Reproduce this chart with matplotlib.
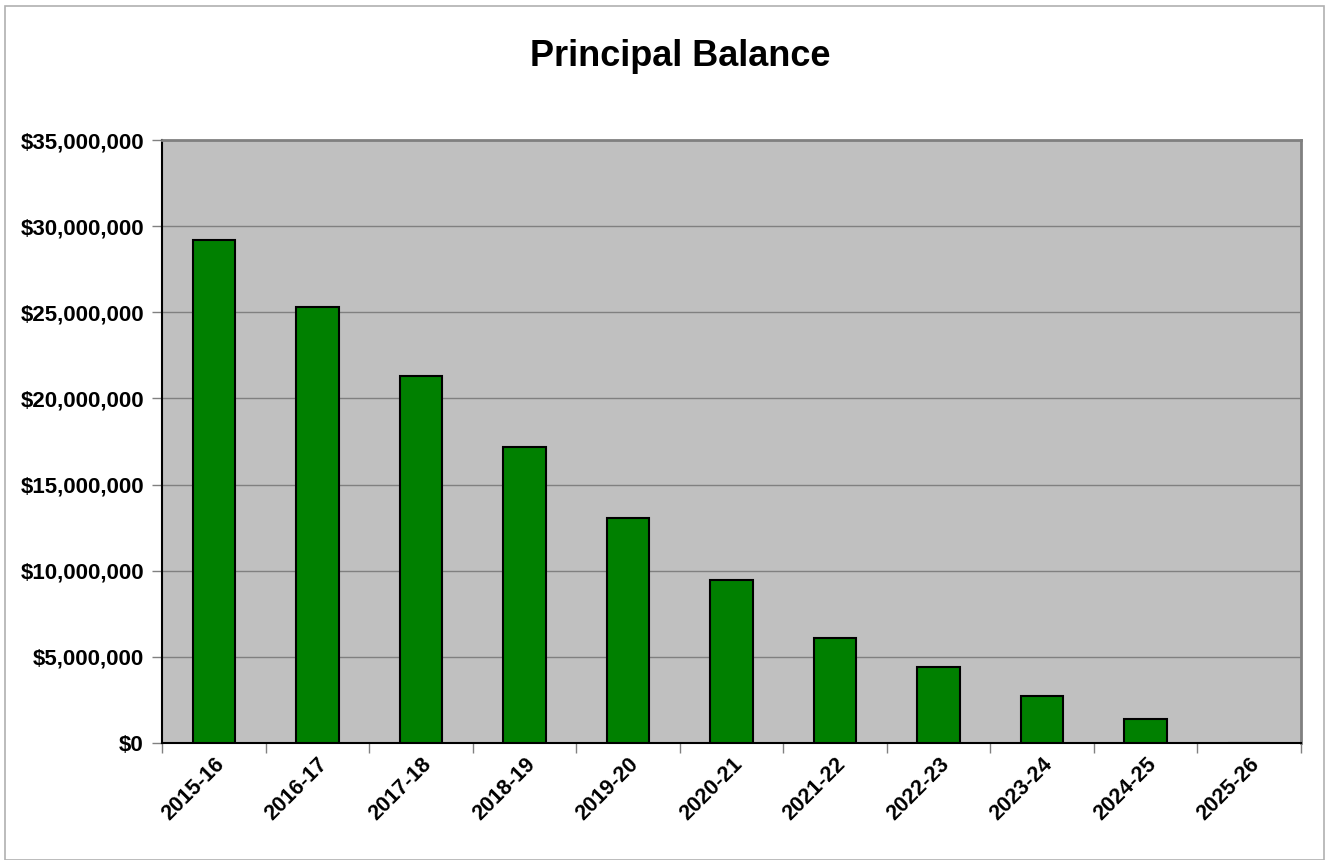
import matplotlib
matplotlib.use("Agg")
import matplotlib.pyplot as plt
import matplotlib.transforms as mtransforms
import numpy as np
from matplotlib.ticker import FuncFormatter, MultipleLocator
from matplotlib.patches import Rectangle

plt.rcParams['font.family'] = ['Liberation Sans', 'DejaVu Sans']

# fiscal years and remaining principal balance
years = ["2015-16", "2016-17", "2017-18", "2018-19", "2019-20", "2020-21",
         "2021-22", "2022-23", "2023-24", "2024-25", "2025-26"]
balance = [29200000, 25300000, 21300000, 17200000, 13050000, 9480000,
           6080000, 4420000, 2730000, 1380000, 0]

fig = plt.figure(figsize=(13.25, 8.6), dpi=100)
# light outer chart frame
fig.patches.append(Rectangle((5/1325, 0), 1319/1325, 854/860, transform=fig.transFigure,
                             fill=False, edgecolor="#b0b0b0", linewidth=1.2))

ax = fig.add_axes([162/1325, 1 - 743/860, (1301 - 162)/1325, (743 - 140)/860])
ax.set_facecolor("#c0c0c0")

x = np.arange(len(years))
ax.bar(x, balance, width=0.41, color="#008000", edgecolor="black", linewidth=1.5, zorder=3)

ax.set_xlim(-0.5, len(years) - 0.5)
ax.set_ylim(0, 35000000)
ax.yaxis.set_major_locator(MultipleLocator(5000000))
ax.yaxis.set_major_formatter(FuncFormatter(lambda v, p: "${:,.0f}".format(v)))
ax.grid(axis="y", color="#808080", linewidth=1, zorder=0)
ax.set_axisbelow(True)

# x ticks sit between categories, labels under the bars
ax.set_xticks(np.arange(-0.5, len(years), 1), minor=False)
ax.set_xticklabels([])
ax.set_xticks(x, minor=True)
ax.set_xticklabels(years, minor=True, rotation=45, ha="right", rotation_mode="anchor",
                   fontsize=15.5, fontweight="bold")
shift = mtransforms.ScaledTranslation(-4/100, 0, fig.dpi_scale_trans)
for lab in ax.get_xticklabels(minor=True):
    lab.set_transform(lab.get_transform() + shift)
ax.tick_params(axis="x", which="minor", length=0, pad=8)
ax.tick_params(axis="x", which="major", length=7, color="#808080", width=1)
ax.tick_params(axis="y", length=7, color="#808080", width=1, labelsize=16, pad=6)
for lab in ax.get_yticklabels():
    lab.set_fontweight("bold")

ax.spines["left"].set_color("black")
ax.spines["bottom"].set_color("black")
ax.spines["left"].set_linewidth(1.5)
ax.spines["bottom"].set_linewidth(1.5)
ax.spines["top"].set_color("#808080")
ax.spines["right"].set_color("#808080")
ax.spines["top"].set_linewidth(2)
ax.spines["right"].set_linewidth(2)

fig.text(680/1325, 1 - 57/860, "Principal Balance", ha="center", va="center",
         fontsize=26, fontweight="bold")

fig.savefig("out.png", dpi=100)
